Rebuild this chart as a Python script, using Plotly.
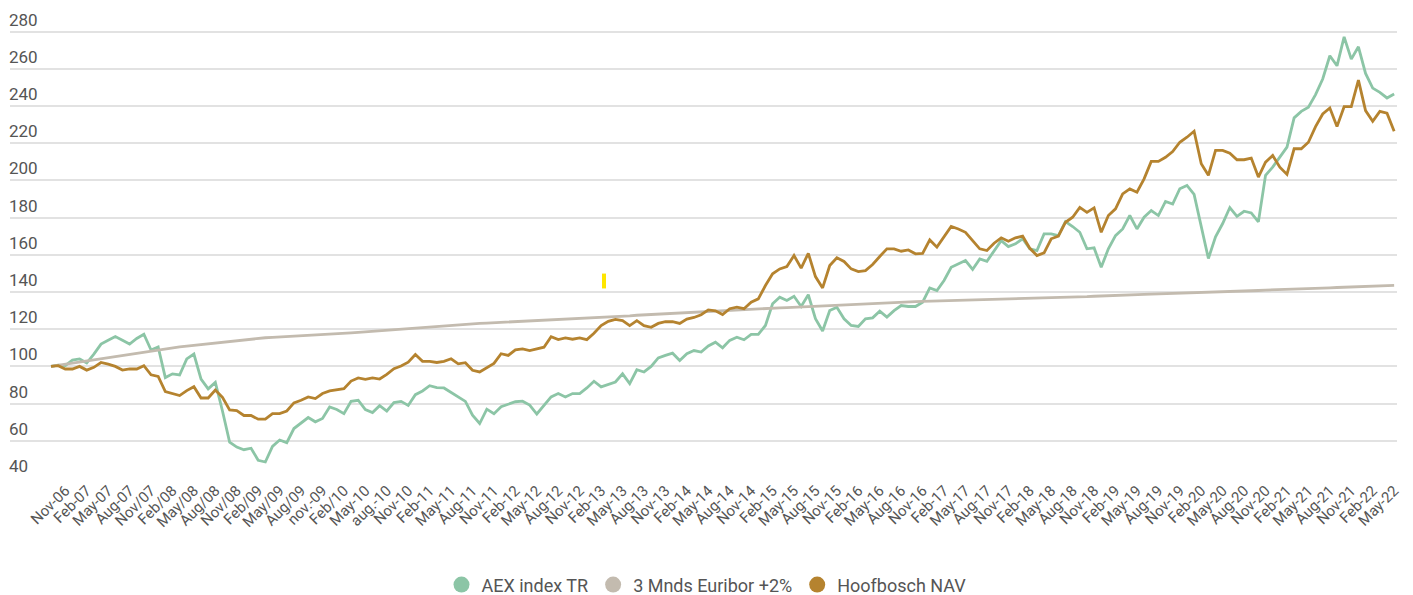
import pandas as pd
import plotly.graph_objects as go

# Monthly observations, Sep-2006 .. May-2022 (189 months)
months = [d.strftime("%Y-%m") for d in pd.date_range("2006-09-01", "2022-05-01", freq="MS")]

aex = [
    100, 100.7, 100.4, 103.4, 104, 101.8, 106.6, 112, 114, 116, 114, 112,
    115, 117.3, 108.8, 110.5, 94, 96, 95.4, 104, 106.6, 93.2, 87.9, 91.4,
    76, 59.3, 56.6, 55.2, 56, 49.5, 48.6, 57, 60.4, 59, 66.6, 69.5,
    72.5, 70.2, 72, 78.2, 76.8, 74.6, 81.2, 81.8, 76.8, 75.2, 78.9, 76,
    80.5, 81.2, 79, 84.8, 86.8, 89.6, 88.6, 88.4, 86, 84, 81.2, 73.8,
    69.3, 77, 74.6, 78.3, 79.7, 81, 81.3, 79.2, 74.4, 79.2, 83.6, 85.4,
    83.6, 85.4, 85.4, 88.4, 92, 89, 90.2, 91.6, 96, 90.7, 98.2, 97,
    100, 104.6, 105.9, 107.1, 103.2, 106.8, 108.5, 107.7, 111, 113, 110, 114,
    115.7, 114.3, 117.2, 117.2, 122, 133.7, 137.2, 135.4, 137.7, 132.2, 138.5, 125.6,
    119, 130, 131.8, 125.6, 122, 121.5, 125.6, 126.1, 129.7, 126.5, 130, 132.7,
    132.2, 132.2, 134.5, 142.2, 140.8, 146.2, 153.3, 155.1, 156.9, 152.1, 157.8, 156.5,
    162.3, 167.6, 164.4, 165.9, 168.6, 163.2, 162.3, 171.2, 171.2, 170.3, 177.8, 175.2,
    172.1, 163.2, 163.7, 153.3, 163.2, 170.3, 173.9, 181.1, 173.9, 180.2, 183.8, 181.1,
    188.7, 187.3, 195.5, 197.3, 192.5, 176, 158, 169.6, 176.8, 185.4, 180.7, 183.4,
    182.5, 177.7, 202.7, 207.1, 212.5, 217.9, 233.6, 237.1, 239.3, 246.1, 254.5, 267,
    261.6, 277.1, 265.2, 271.8, 257.5, 249.6, 247.3, 244.3, 246.4,
]

euribor = [
    100.0, 100.6, 101.2, 101.8, 102.4, 103.0, 103.6, 104.2, 104.8, 105.4, 106.0, 106.6,
    107.2, 107.8, 108.3, 108.9, 109.5, 110.0, 110.5, 110.9, 111.3, 111.7, 112.1, 112.5,
    113.0, 113.5, 114.0, 114.5, 114.8, 115.1, 115.4, 115.6, 115.8, 116.0, 116.2, 116.4,
    116.5, 116.7, 116.9, 117.1, 117.4, 117.7, 118.0, 118.3, 118.6, 118.9, 119.2, 119.5,
    119.8, 120.1, 120.4, 120.7, 121.0, 121.3, 121.6, 121.9, 122.2, 122.4, 122.7, 122.9,
    123.1, 123.3, 123.5, 123.7, 123.8, 123.9, 124.1, 124.2, 124.4, 124.5, 124.7, 124.9,
    125.1, 125.3, 125.6, 125.8, 126.0, 126.3, 126.5, 126.8, 127.0, 127.2, 127.5, 127.7,
    127.9, 128.2, 128.4, 128.7, 128.9, 129.2, 129.4, 129.6, 129.8, 130.0, 130.2, 130.4,
    130.6, 130.8, 131.0, 131.2, 131.3, 131.4, 131.5, 131.6, 131.8, 132.0, 132.2, 132.4,
    132.6, 132.8, 132.9, 133.1, 133.3, 133.5, 133.7, 133.8, 134.0, 134.1, 134.3, 134.5,
    134.6, 134.8, 134.9, 135.0, 135.1, 135.2, 135.3, 135.4, 135.5, 135.6, 135.7, 135.8,
    135.9, 136.0, 136.1, 136.2, 136.3, 136.4, 136.5, 136.6, 136.8, 136.9, 137.1, 137.2,
    137.4, 137.5, 137.7, 137.8, 138.0, 138.1, 138.3, 138.4, 138.6, 138.7, 138.9, 139.0,
    139.1, 139.2, 139.4, 139.5, 139.7, 139.8, 140.0, 140.1, 140.2, 140.3, 140.4, 140.5,
    140.7, 140.8, 141.0, 141.1, 141.3, 141.4, 141.6, 141.7, 141.8, 142.0, 142.1, 142.2,
    142.4, 142.5, 142.6, 142.7, 142.8, 142.9, 143.0, 143.2, 143.5,
]

hoofbosch = [
    100, 100.4, 98.6, 98.6, 100, 98, 99.5, 102.1, 101.2, 100, 98, 98.6,
    98.6, 100.4, 95.5, 94.6, 86.4, 85.2, 84.3, 87, 89.1, 83, 83, 87.3,
    83.4, 76.6, 76.2, 73.6, 73.6, 71.6, 71.6, 74.6, 74.6, 76, 80.4, 81.8,
    83.6, 82.7, 85.4, 86.8, 87.5, 88, 92.1, 93.8, 93, 93.8, 93.2, 95.7,
    98.8, 100.2, 102.3, 106.4, 102.7, 102.7, 102.1, 102.7, 104.1, 101.4, 102, 97.9,
    97, 99.3, 101.6, 106.8, 105.9, 108.9, 109.4, 108.5, 109.4, 110.3, 116, 114.4,
    115.3, 114.6, 115.3, 114.4, 117.8, 121.9, 124.2, 125.3, 124.6, 121.9, 124.6, 121.9,
    121, 123.1, 124, 124, 123.1, 125.4, 126.3, 127.8, 130.4, 129.9, 127.9, 131,
    131.8, 131, 134.5, 136.3, 143.5, 149.8, 152.4, 153.7, 159.6, 152.8, 160.8, 148.3,
    142.2, 154.2, 158.4, 156.4, 152.4, 151, 151.5, 154.8, 159.1, 163.2, 163.2, 161.9,
    162.6, 160.5, 160.8, 168, 164.1, 170, 175.2, 173.9, 172.1, 167.6, 163.2, 162.3,
    166.2, 169.1, 167.3, 169.1, 170, 163.5, 159.6, 161, 168.6, 170, 177.5, 180.2,
    185.5, 182.8, 185.2, 172.1, 181.1, 184.7, 192.7, 195.4, 193.6, 200.8, 210.2, 210.2,
    212.4, 215.5, 220.5, 223.2, 226.4, 208.9, 202.7, 216.1, 216.1, 214.6, 211.1, 211.1,
    212, 201.8, 209.8, 213.4, 207.1, 203.2, 217, 217, 220.5, 228.9, 235.7, 238.9,
    228.9, 239.6, 239.6, 253.9, 237.5, 231.8, 237.1, 236.1, 226.4,
]

tick_labels = [
    "Nov-06", "Feb-07", "May-07", "Aug-07", "Nov/07", "Feb/08", "May/08", "Aug/08",
    "Nov/08", "Feb/09", "May/09", "Aug/09", "nov.-09", "Feb/10", "May-10", "aug.-10",
    "Nov-10", "Feb-11", "May-11", "Aug-11", "Nov-11", "Feb-12", "May-12", "Aug-12",
    "Nov-12", "Feb-13", "May-13", "Aug-13", "Nov-13", "Feb-14", "May-14", "Aug-14",
    "Nov-14", "Feb-15", "May-15", "Aug-15", "Nov-15", "Feb-16", "May-16", "Aug-16",
    "Nov-16", "Feb-17", "May-17", "Aug-17", "Nov-17", "Feb-18", "May-18", "Aug-18",
    "Nov-18", "Feb-19", "May-19", "Aug-19", "Nov-19", "Feb-20", "May-20", "Aug-20",
    "Nov-20", "Feb-21", "May-21", "Aug-21", "Nov-21", "Feb-22", "May-22",
]
tick_months = months[2::3]

names = ["AEX index TR", "3 Mnds Euribor +2%", "Hoofbosch NAV"]
colors = ["#8cc5a6", "#c3bbaf", "#b5832f"]
series = [aex, euribor, hoofbosch]

fig = go.Figure()
for name, col, vals in zip(names, colors, series):
    fig.add_trace(go.Scatter(
        x=months, y=vals, mode="lines", name=name,
        line=dict(color=col, width=2.8), showlegend=False,
        hoverinfo="skip",
    ))
for name, col in zip(names, colors):
    fig.add_trace(go.Scatter(
        x=[None], y=[None], mode="markers", name=name,
        marker=dict(color=col, size=18, symbol="circle"),
        showlegend=True,
    ))

fig.update_layout(
    width=1413, height=595,
    margin=dict(l=10, r=16, t=5, b=117),
    paper_bgcolor="white", plot_bgcolor="white",
    font=dict(family="Roboto, sans-serif", color="#555555"),
    showlegend=True,
    legend=dict(
        orientation="h", x=0.5, xanchor="center", xref="container",
        y=0.017, yanchor="middle", yref="container",
        font=dict(size=18, color="#555555"), itemsizing="trace",
        bgcolor="rgba(0,0,0,0)",
    ),
    xaxis=dict(
        type="category", range=[-5.74, 188.4], showgrid=False, zeroline=False,
        showline=False, ticks="", tickmode="array", tickvals=tick_months,
        ticktext=tick_labels, tickangle=-45, tickfont=dict(size=15, color="#555555"),
        automargin=False,
    ),
    yaxis=dict(
        range=[40, 294.28], tickvals=[40, 60, 80, 100, 120, 140, 160, 180, 200, 220, 240, 260, 280],
        showgrid=True, gridcolor="#e2e2e2",
        gridwidth=1.6, zeroline=False, showline=False, ticks="",
        ticklabelposition="inside", ticklabelshift=-12, ticklabelstandoff=-4,
        tickfont=dict(size=17, color="#555555"), automargin=False,
    ),
    shapes=[dict(
        type="rect", xref="paper", yref="y",
        x0=0.4268, x1=0.4297, y0=141.9, y1=149.9,
        fillcolor="#ffe600", line=dict(width=0),
    )],
)

fig.write_html(
    "out.html",
    config={"displayModeBar": False},
    post_script="document.body.style.margin='0';document.body.style.overflow='hidden';",
)
